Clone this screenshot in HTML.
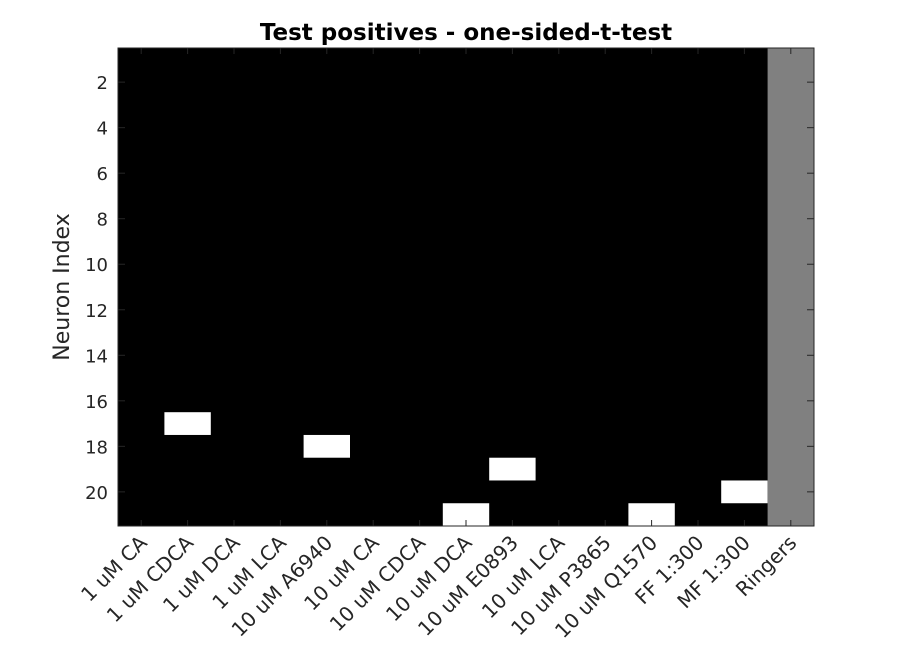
<!DOCTYPE html>
<html><head><meta charset="utf-8"><style>
body{margin:0;background:#fff}
svg text{font-family:"DejaVu Sans","Liberation Sans",sans-serif;fill:#262626}
</style></head><body>
<svg id="chart" width="900" height="652" xmlns="http://www.w3.org/2000/svg">
<rect width="900" height="652" fill="#fff"/>
<text x="466" y="40" text-anchor="middle" font-size="23" font-weight="bold" style="fill:#000">Test positives - one-sided-t-test</text>
<text transform="translate(69,287) rotate(-90)" text-anchor="middle" font-size="22">Neuron Index</text>
<g id="cells"></g>
<g id="axes"></g>
</svg>
<script>
const categories = ["1 uM CA","1 uM CDCA","1 uM DCA","1 uM LCA","10 uM A6940","10 uM CA","10 uM CDCA","10 uM DCA","10 uM E0893","10 uM LCA","10 uM P3865","10 uM Q1570","FF 1:300","MF 1:300","Ringers"];
const positiveNeurons = [[],[17],[],[],[18],[],[],[21],[19],[],[],[21],[],[20],[]];
const controlColumns = ["Ringers"];
const yTicks = [2,4,6,8,10,12,14,16,18,20];
const nNeurons = 21;

const L=118,R=814,T=48,B=526;
const cw=(R-L)/categories.length;
const xPos=i=>L+cw*i;
const yPos=v=>T+(v-0.5)*(B-T)/nNeurons;
const NS="http://www.w3.org/2000/svg";
const cells=document.getElementById('cells');
const axes=document.getElementById('axes');
function mk(tag,attrs,parent){const e=document.createElementNS(NS,tag);for(const k in attrs)e.setAttribute(k,attrs[k]);parent.appendChild(e);return e;}

const bg=mk('rect',{x:L,y:T,width:R-L,height:B-T,fill:'#000'},cells);


categories.forEach((c,i)=>{
  if(controlColumns.includes(c)){
    const r=mk('rect',{x:xPos(i),y:T,width:cw,height:B-T,fill:'#808080'},cells);
    
    
  }
  positiveNeurons[i].forEach(n=>{
    const r=mk('rect',{x:xPos(i),y:yPos(n-0.5),width:cw,height:yPos(n+0.5)-yPos(n-0.5),fill:'#fff'},cells);
    
    
  });
});
const frame=mk('rect',{x:L,y:T,width:R-L,height:B-T,fill:'none',stroke:'#262626','stroke-width':1},axes);


yTicks.forEach(v=>{
  const y=yPos(v);
  mk('line',{x1:L,x2:L+7,y1:y,y2:y,stroke:'#262626'},axes);
  mk('line',{x1:R,x2:R-7,y1:y,y2:y,stroke:'#262626'},axes);
  const t=mk('text',{x:L-10,y:y+7,'text-anchor':'end','font-size':18},axes);
  t.textContent=v;
  
  
});
categories.forEach((c,i)=>{
  const x=xPos(i)+cw/2;
  mk('line',{x1:x,x2:x,y1:B,y2:B-6,stroke:'#262626'},axes);
  mk('line',{x1:x,x2:x,y1:T,y2:T+6,stroke:'#262626'},axes);
  const t=mk('text',{'text-anchor':'end','font-size':20,transform:`translate(${x+7},${B+18}) rotate(-45)`},axes);
  t.textContent=c;
  
  
});
</script>
</body></html>
